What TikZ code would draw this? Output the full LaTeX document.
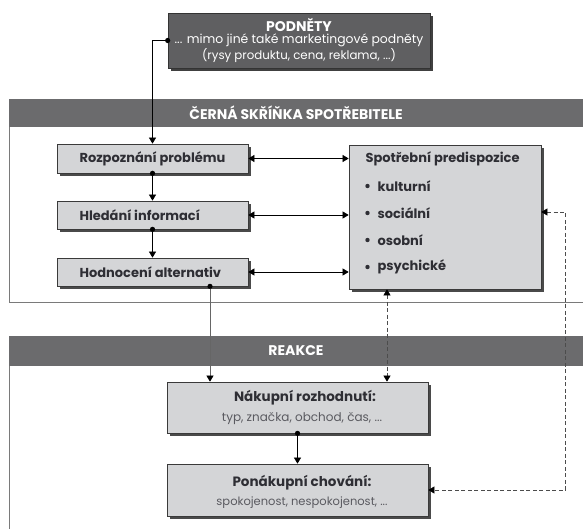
\documentclass[tikz,border=0pt]{standalone}
\usepackage{fontspec}
\setmainfont{Poppins}
\usetikzlibrary{arrows.meta,shadows}
\definecolor{bardark}{HTML}{6B6B6D}
\definecolor{podfill}{HTML}{5F5F61}
\definecolor{boxfill}{HTML}{D4D5D7}
\definecolor{boxedge}{HTML}{3A3A3A}
\definecolor{shade}{HTML}{4A4A4A}
\definecolor{frameline}{HTML}{7A7A7A}
\definecolor{txtdark}{HTML}{2E2E34}
\definecolor{txtgray}{HTML}{5A5A60}
\tikzset{
  lightbox/.style={draw=boxedge,line width=0.7pt,fill=boxfill,inner sep=0pt,
    drop shadow={shadow xshift=3pt,shadow yshift=-3pt,fill=shade,opacity=1}},
  darkbox/.style={draw=black!80,line width=0.7pt,fill=podfill,inner sep=0pt,text=white,
    drop shadow={shadow xshift=3pt,shadow yshift=-3pt,fill=black!75,opacity=1}},
  bartext/.style={text=white,font=\fontsize{14}{16}\selectfont\bfseries},
  boxtitle/.style={text=txtdark,font=\fontsize{13}{15}\selectfont\bfseries},
  subtext/.style={text=txtgray,font=\fontsize{11.5}{14}\selectfont},
  conn/.style={line width=0.6pt,black,-{Triangle[length=6pt,width=7pt]}},
  dconn/.style={line width=0.6pt,black,{Triangle[length=6pt,width=7pt]}-{Triangle[length=6pt,width=7pt]}},
  dashconn/.style={line width=0.6pt,black!70,dash pattern=on 4pt off 2.5pt,{Triangle[length=6pt,width=7pt,fill=black,color=black]}-{Triangle[length=6pt,width=7pt,fill=black,color=black]}},
  frame/.style={line width=0.8pt,frameline},
}
\begin{document}
\begin{tikzpicture}[x=1pt,y=-1pt]
\useasboundingbox (0,0) rectangle (583,529);
% frames
\fill[bardark] (9,99) rectangle (583,127);
\draw[frame] (9,127) -- (9,302) -- (583,302);
\node[bartext] (barone) at (296,113) {ČERNÁ SKŘÍŇKA SPOTŘEBITELE};
\fill[bardark] (9,336) rectangle (583,366);
\draw[frame] (9,366) -- (9,529);
\node[bartext] (bartwo) at (296,351) {REAKCE};
% stimuli box
\node[darkbox,minimum width=262pt,minimum height=55pt] (podnety) at (299,40.5) {};
\node[text=white,font=\fontsize{14}{16}\selectfont\bfseries] (podt) at (299,25) {PODNĚTY};
\node[text=white,font=\fontsize{12.4}{14}\selectfont] (podl2) at (299,40.5) {... mimo jiné také marketingové podněty};
\node[text=white,font=\fontsize{11.8}{14}\selectfont] (podl3) at (299,55.5) {(rysy produktu, cena, reklama, ...)};
% left column
\node[lightbox,minimum width=191pt,minimum height=29pt] (rozp) at (152.5,158.5) {};
\node[boxtitle,anchor=west] (rozpt) at (76,158.5) {Rozpoznání problému};
\node[lightbox,minimum width=191pt,minimum height=28pt] (hled) at (152.5,215) {};
\node[boxtitle,anchor=west] (hledt) at (76,215) {Hledání informací};
\node[lightbox,minimum width=191pt,minimum height=28pt] (hodn) at (152.5,272) {};
\node[boxtitle,anchor=west] (hodnt) at (76,272) {Hodnocení alternativ};
% predispositions
\node[lightbox,minimum width=192pt,minimum height=144pt] (spot) at (445,217) {};
\node[boxtitle,anchor=west] (spott) at (362,159) {Spotřební predispozice};
\foreach \n/\t/\y in {kult/kulturní/186,soc/sociální/213,osob/osobní/240,psy/psychické/267}{
  \fill[txtdark] (367.5,\y) circle (2.2pt);
  \node[boxtitle,anchor=west] (\n) at (374,\y) {\t};
}
% reaction boxes
\node[lightbox,minimum width=261pt,minimum height=51pt] (nakup) at (297.5,407.5) {};
\node[boxtitle,font=\fontsize{13.5}{15}\selectfont\bfseries] (nakupt) at (305,398) {Nákupní rozhodnutí:};
\node[subtext,font=\fontsize{12}{14}\selectfont] (nakups) at (302,419) {typ, značka, obchod, čas, ...};
\node[lightbox,minimum width=261pt,minimum height=52pt] (ponak) at (297.5,490) {};
\node[boxtitle,font=\fontsize{13.5}{15}\selectfont\bfseries] (ponakt) at (302,483) {Ponákupní chování:};
\node[subtext] (ponaks) at (302,503) {spokojenost, nespokojenost, ...};
% connectors
\draw[conn] (podnety.west) -| (rozp.north);
\fill (podnety.west) circle (2.6pt);
\draw[conn] (rozp.south) -- (hled.north);
\fill (rozp.south) circle (2.6pt);
\draw[conn] (hled.south) -- (hodn.north);
\fill (hled.south) circle (2.6pt);
\draw[dconn] (rozp.east) -- (rozp.east -| spot.west);
\draw[dconn] (hled.east) -- (hled.east -| spot.west);
\draw[dconn] (hodn.east) -- (hodn.east -| spot.west);
\coordinate (hodnout) at ([xshift=57.5pt]hodn.south);
\draw[conn,black!60,-{Triangle[length=6pt,width=7pt,color=black]}] (hodnout) -- (hodnout |- nakup.north);
\fill (hodnout) circle (2.6pt);
\coordinate (spotin) at ([xshift=-58pt]spot.south);
\draw[dashconn] (spotin) -- (spotin |- nakup.north);
\draw[dashconn] ([yshift=5pt]spot.east) -- ++(24,0) |- (ponak.east);
\draw[conn] (nakup.south) -- (ponak.north);
\fill (nakup.south) circle (2.6pt);
\end{tikzpicture}
\end{document}
